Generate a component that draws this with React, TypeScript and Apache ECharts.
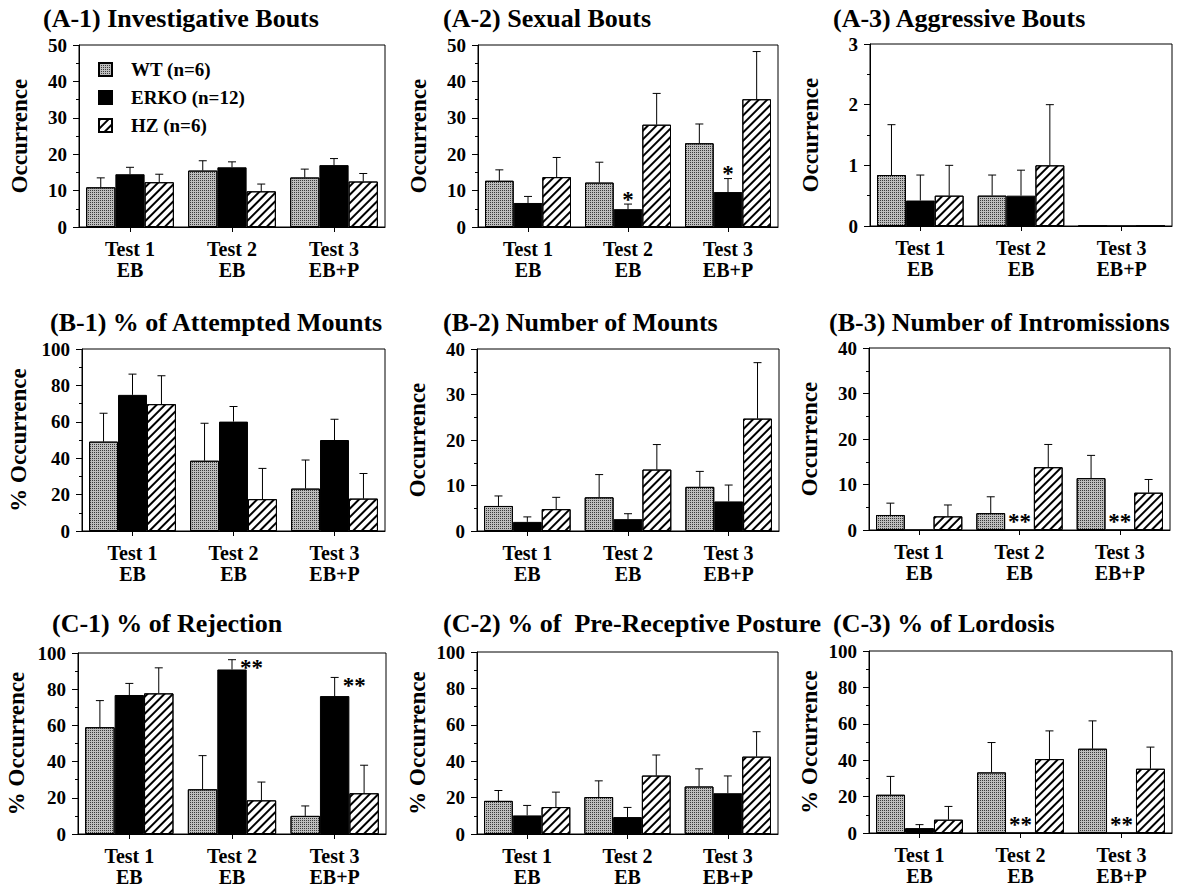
import React, { useEffect, useRef } from "react";
import * as echarts from "echarts";

// ---------- data ----------
const categories = ["Test 1\nEB", "Test 2\nEB", "Test 3\nEB+P"];
const groups = ["WT (n=6)", "ERKO (n=12)", "HZ (n=6)"];

// (A-1) Investigative Bouts
const a1WT = [10.9, 15.5, 13.6];
const a1WTErr = [2.6, 2.7, 2.3];
const a1KO = [14.5, 16.4, 17.0];
const a1KOErr = [1.9, 1.5, 1.8];
const a1HZ = [12.3, 9.8, 12.5];
const a1HZErr = [2.2, 2.0, 2.2];
const a1Sig = ["", "", ""];

// (A-2) Sexual Bouts
const a2WT = [12.7, 12.2, 23.0];
const a2WTErr = [3.0, 5.6, 5.3];
const a2KO = [6.6, 4.9, 9.6];
const a2KOErr = [1.8, 1.4, 3.7];
const a2HZ = [13.7, 28.1, 35.1];
const a2HZErr = [5.4, 8.6, 13.1];
const a2Sig = ["", "*", "*"];

// (A-3) Aggressive Bouts
const a3WT = [0.84, 0.5, 0];
const a3WTErr = [0.83, 0.34, 0];
const a3KO = [0.42, 0.5, 0];
const a3KOErr = [0.42, 0.42, 0];
const a3HZ = [0.5, 1.0, 0];
const a3HZErr = [0.5, 1.0, 0];
const a3Sig = ["", "", ""];

// (B-1) % of Attempted Mounts
const b1WT = [49.1, 38.6, 23.3];
const b1WTErr = [15.6, 20.6, 15.7];
const b1KO = [74.8, 60.1, 50.0];
const b1KOErr = [11.4, 8.3, 11.4];
const b1HZ = [69.7, 17.5, 17.8];
const b1HZErr = [15.6, 16.9, 13.8];
const b1Sig = ["", "", ""];

// (B-2) Number of Mounts
const b2WT = [5.5, 7.4, 9.7];
const b2WTErr = [2.2, 5.0, 3.4];
const b2KO = [2.0, 2.6, 6.5];
const b2KOErr = [1.1, 1.2, 3.6];
const b2HZ = [4.8, 13.5, 24.7];
const b2HZErr = [2.6, 5.5, 12.3];
const b2Sig = ["", "", ""];

// (B-3) Number of Intromissions
const b3WT = [3.3, 3.7, 11.4];
const b3WTErr = [2.6, 3.6, 5.0];
const b3KO = [0, 0, 0];
const b3KOErr = [0, 0, 0];
const b3HZ = [3.0, 13.8, 8.2];
const b3HZErr = [2.5, 5.0, 2.9];
const b3Sig = ["", "**", "**"];

// (C-1) % of Rejection
const c1WT = [59.0, 24.7, 10.0];
const c1WTErr = [14.7, 18.6, 5.5];
const c1KO = [76.8, 90.9, 76.2];
const c1KOErr = [6.4, 5.4, 10.3];
const c1HZ = [77.7, 18.6, 22.5];
const c1HZErr = [14.1, 10.1, 15.5];
const c1Sig = ["", "**", "**"];

// (C-2) % of Pre-Receptive Posture
const c2WT = [18.2, 20.3, 26.1];
const c2WTErr = [5.7, 8.9, 9.7];
const c2KO = [10.2, 9.3, 22.4];
const c2KOErr = [5.5, 5.3, 9.5];
const c2HZ = [14.8, 32.1, 42.5];
const c2HZErr = [8.2, 11.3, 13.7];
const c2Sig = ["", "", ""];

// (C-3) % of Lordosis
const c3WT = [21.0, 33.3, 46.3];
const c3WTErr = [10.1, 16.4, 15.3];
const c3KO = [2.7, 0, 0];
const c3KOErr = [1.9, 0, 0];
const c3HZ = [7.3, 40.6, 35.3];
const c3HZErr = [7.3, 15.5, 11.9];
const c3Sig = ["", "**", "**"];

const titles = [
  "(A-1) Investigative Bouts",
  "(A-2) Sexual Bouts",
  "(A-3) Aggressive Bouts",
  "(B-1) % of Attempted Mounts",
  "(B-2) Number of Mounts",
  "(B-3) Number of Intromissions",
  "(C-1) % of Rejection",
  "(C-2) % of  Pre-Receptive Posture",
  "(C-3) % of Lordosis",
];
const yNames = [
  "Occurrence", "Occurrence", "Occurrence",
  "% Occurrence", "Occurrence", "Occurrence",
  "% Occurrence", "% Occurrence", "% Occurrence",
];
const yMax = [50, 50, 3, 100, 40, 40, 100, 100, 100];
const yInterval = [10, 10, 1, 20, 10, 10, 20, 20, 20];

const means = [
  [a1WT, a1KO, a1HZ], [a2WT, a2KO, a2HZ], [a3WT, a3KO, a3HZ],
  [b1WT, b1KO, b1HZ], [b2WT, b2KO, b2HZ], [b3WT, b3KO, b3HZ],
  [c1WT, c1KO, c1HZ], [c2WT, c2KO, c2HZ], [c3WT, c3KO, c3HZ],
];
const errs = [
  [a1WTErr, a1KOErr, a1HZErr], [a2WTErr, a2KOErr, a2HZErr], [a3WTErr, a3KOErr, a3HZErr],
  [b1WTErr, b1KOErr, b1HZErr], [b2WTErr, b2KOErr, b2HZErr], [b3WTErr, b3KOErr, b3HZErr],
  [c1WTErr, c1KOErr, c1HZErr], [c2WTErr, c2KOErr, c2HZErr], [c3WTErr, c3KOErr, c3HZErr],
];
const sigs = [a1Sig, a2Sig, a3Sig, b1Sig, b2Sig, b3Sig, c1Sig, c2Sig, c3Sig];
const sigRight = [false, false, false, false, false, false, true, false, false];

// ---------- layout ----------
const gridLeft = [79, 478, 870, 82, 477, 869, 78, 477, 869];
const gridWidth = [306, 300, 302, 303, 302, 301, 308, 301, 303];
const gridTop = [45, 45, 44, 349, 349, 348, 653, 652, 651];
const gridHeight = 182;
const titleLeft = [43, 443, 833, 50, 443, 829, 52, 443, 833];
const titleTop = [5, 5, 5, 309, 309, 309, 610, 610, 610];
const yNameGap = [48, 48, 48, 52, 48, 48, 50, 48, 48];

const FONT = "'Liberation Serif', 'Times New Roman', serif";
const CAT_GAP = 0.14;

const wtDecal = {
  symbol: "rect",
  symbolSize: 1,
  dashArrayX: [1, 1],
  dashArrayY: [1, 1],
  color: "#3a3a3a",
  backgroundColor: "#e8e8e8",
};
const hzDecal = {
  symbol: "rect",
  symbolSize: 1,
  dashArrayX: [1, 0],
  dashArrayY: [1.6, 3.4],
  rotation: -Math.PI / 4,
  color: "#000",
  backgroundColor: "#fff",
};
const groupStyles = [
  { color: "#bdbdbd", borderColor: "#000", borderWidth: 1, decal: wtDecal },
  { color: "#000", borderColor: "#000", borderWidth: 1 },
  { color: "#fff", borderColor: "#000", borderWidth: 1, decal: hzDecal },
];

function buildOption() {
  const grid: any[] = [];
  const xAxis: any[] = [];
  const yAxis: any[] = [];
  const series: any[] = [];
  const title: any[] = [];

  for (let p = 0; p < 9; p++) {
    grid.push({
      left: gridLeft[p],
      top: gridTop[p],
      width: gridWidth[p],
      height: gridHeight,
      show: true,
      borderColor: "#000",
      borderWidth: 1,
      backgroundColor: "transparent",
      containLabel: false,
    });
    title.push({
      text: titles[p],
      left: titleLeft[p],
      top: titleTop[p],
      padding: 0,
      textStyle: { fontFamily: FONT, fontWeight: "bold", fontSize: 26, color: "#000" },
    });
    xAxis.push({
      type: "category",
      gridIndex: p,
      data: categories,
      axisLine: { show: true, lineStyle: { color: "#000", width: 1 } },
      axisTick: { show: true, alignWithLabel: true, length: 5, lineStyle: { color: "#000" } },
      axisLabel: {
        fontFamily: FONT,
        fontWeight: "bold",
        fontSize: 20,
        lineHeight: 21,
        color: "#000",
        margin: 11,
        interval: 0,
      },
      splitLine: { show: false },
    });
    yAxis.push({
      type: "value",
      gridIndex: p,
      min: 0,
      max: yMax[p],
      interval: yInterval[p],
      name: yNames[p],
      nameLocation: "middle",
      nameRotate: 90,
      nameGap: yNameGap[p],
      nameTextStyle: { fontFamily: FONT, fontWeight: "bold", fontSize: 23, color: "#000" },
      axisLine: { show: true, lineStyle: { color: "#000", width: 1 } },
      axisTick: { show: true, length: 6, lineStyle: { color: "#000" } },
      minorTick: { show: true, splitNumber: 2, length: 3, lineStyle: { color: "#000" } },
      splitLine: { show: false },
      axisLabel: {
        fontFamily: FONT,
        fontWeight: "bold",
        fontSize: 19,
        color: "#000",
        margin: 12,
      },
    });

    for (let g = 0; g < 3; g++) {
      series.push({
        type: "bar",
        name: groups[g],
        xAxisIndex: p,
        yAxisIndex: p,
        data: means[p][g],
        barGap: "0%",
        barCategoryGap: CAT_GAP * 100 + "%",
        itemStyle: groupStyles[g],
        emphasis: { disabled: true },
        z: 2,
      });
    }

    const errData: number[][] = [];
    const errLabels: string[] = [];
    for (let c = 0; c < 3; c++) {
      for (let g = 0; g < 3; g++) {
        errData.push([c, means[p][g][c], g, errs[p][g][c]]);
        errLabels.push(g === 1 ? sigs[p][c] : "");
      }
    }
    const right = sigRight[p];
    series.push({
      type: "custom",
      xAxisIndex: p,
      yAxisIndex: p,
      z: 5,
      silent: true,
      encode: { x: 0, y: 1 },
      data: errData,
      renderItem: (params: any, api: any) => {
        const c = api.value(0);
        const m = api.value(1);
        const g = api.value(2);
        const e = api.value(3);
        const band = api.size([1, 0])[0];
        const bw = (band * (1 - CAT_GAP)) / 3;
        const base = api.coord([c, m]);
        const top = api.coord([c, m + e]);
        const x = base[0] + (g - 1) * bw;
        const children: any[] = [];
        if (e > 0) {
          children.push({
            type: "line",
            shape: { x1: x, y1: base[1], x2: x, y2: top[1] },
            style: { stroke: "#000", lineWidth: 1 },
          });
          children.push({
            type: "line",
            shape: { x1: x - 4, y1: top[1], x2: x + 4, y2: top[1] },
            style: { stroke: "#000", lineWidth: 1 },
          });
        }
        const lab = errLabels[params.dataIndex];
        if (lab) {
          const font = `bold 23px ${FONT}`;
          children.push({
            type: "text",
            style: right
              ? {
                  text: lab,
                  x: x + 8,
                  y: top[1] + 8,
                  fill: "#000",
                  font,
                  align: "left",
                  verticalAlign: "middle",
                }
              : {
                  text: lab,
                  x: x,
                  y: top[1] - (e > 0 ? 5 : 9),
                  fill: "#000",
                  font,
                  align: "center",
                  verticalAlign: "middle",
                },
          });
        }
        return { type: "group", children };
      },
    });
  }

  return {
    animation: false,
    backgroundColor: "#fff",
    title,
    grid,
    xAxis,
    yAxis,
    series,
    legend: {
      data: groups,
      orient: "vertical",
      left: 93,
      top: 55,
      itemWidth: 13,
      itemHeight: 13,
      itemGap: 9,
      icon: "rect",
      selectedMode: false,
      textStyle: {
        fontFamily: FONT,
        fontWeight: "bold",
        fontSize: 19,
        color: "#000",
        padding: [0, 0, 0, 14],
      },
    },
  };
}

export default function App() {
  const ref = useRef<HTMLDivElement>(null);
  useEffect(() => {
    if (!ref.current) return;
    const chart = echarts.init(ref.current, undefined, { renderer: "svg" });
    chart.setOption(buildOption() as any);
    return () => chart.dispose();
  }, []);
  return (
    <div
      ref={ref}
      style={{ position: "fixed", left: 0, top: 0, width: 1189, height: 887, background: "#fff" }}
    />
  );
}
